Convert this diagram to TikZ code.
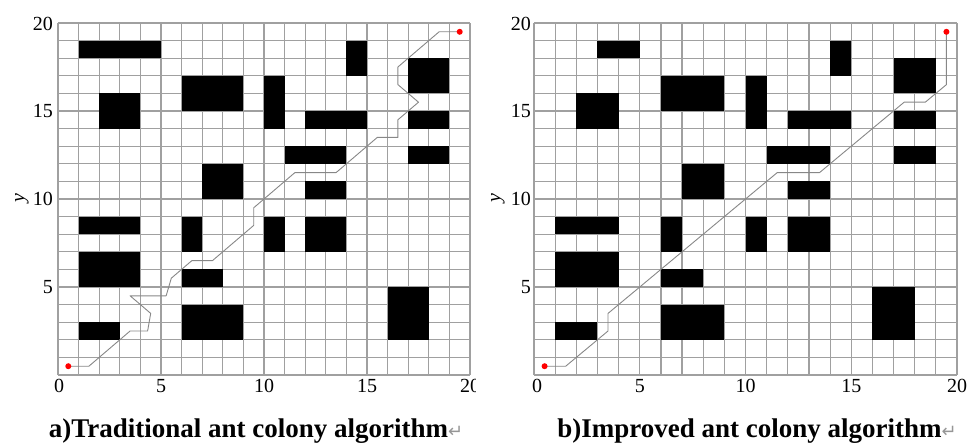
\documentclass[tikz,border=0pt]{standalone}
\usepackage{fontspec}
\setmainfont{Liberation Serif}
\newfontfamily\symfont{DejaVu Sans}
\definecolor{gridgray}{RGB}{160,160,160}
\definecolor{pathgray}{RGB}{135,135,135}
\definecolor{retgray}{RGB}{150,150,150}
\begin{document}
\begin{tikzpicture}[x=1pt,y=-1pt,
  gridline/.style={draw=gridgray,line width=1.2pt},
  obstacle/.style={fill=black},
  route/.style={draw=pathgray,line width=0.9pt,line join=round},
  enddot/.style={circle,fill=red,inner sep=0pt,minimum size=6pt},
  ticklab/.style={font=\fontsize{20}{20}\selectfont,inner sep=0pt},
  axlab/.style={font=\fontsize{20}{20}\selectfont\itshape,inner sep=0pt,rotate=90},
  caption/.style={font=\fontsize{27}{27}\selectfont\bfseries,inner sep=0pt,anchor=base}]
\useasboundingbox (0,0) rectangle (968,446);

% ---------- left grid: traditional ----------
\begin{scope}[shift={(58pt,-375pt)},x=20.6pt,y=17.6pt]
  \foreach \i in {0,...,20} {
    \draw[gridline] (\i,0) -- (\i,20);
    \draw[gridline] (0,\i) -- (20,\i);
  }
  \foreach \a/\b/\c/\d in {1/18/5/19, 2/14/4/16, 6/15/9/17, 7/10/9/12, 14/17/15/19,
      17/16/19/18, 10/14/11/17, 12/14/15/15, 17/14/19/15, 11/12/14/13, 17/12/19/13,
      12/10/14/11, 10/7/11/9, 12/7/14/9, 16/2/18/5, 6/2/9/4, 1/8/4/9, 1/5/4/7,
      1/2/3/3, 6/7/7/9, 6/5/8/6}
    \fill[obstacle] (\a,\b) rectangle (\c,\d);
  \coordinate (sa) at (0.5,0.5);
  \coordinate (ga) at (19.5,19.5);
  \draw[route] (sa) -- (1.5,0.5) -- (3.5,2.5) -- (4.35,2.5) -- (4.5,3.5) -- (3.5,4.5)
    -- (5.25,4.5) -- (5.5,5.5) -- (6.5,6.5) -- (7.5,6.5) -- (9.5,8.5) -- (9.5,9.5)
    -- (11.5,11.5) -- (13.5,11.5) -- (15.5,13.5) -- (16.5,13.5) -- (16.5,14.5)
    -- (17.5,15.5) -- (16.5,16.5) -- (16.5,17.5) -- (18.5,19.5) -- (ga);
  \node[enddot] (sadot) at (sa) {};
  \node[enddot] (gadot) at (ga) {};
\end{scope}

% ---------- right grid: improved ----------
\begin{scope}[shift={(534pt,-375pt)},x=21.15pt,y=17.6pt]
  \foreach \i in {0,...,20} {
    \draw[gridline] (\i,0) -- (\i,20);
    \draw[gridline] (0,\i) -- (20,\i);
  }
  \foreach \a/\b/\c/\d in {3/18/5/19, 2/14/4/16, 6/15/9/17, 7/10/9/12, 14/17/15/19,
      17/16/19/18, 10/14/11/17, 12/14/15/15, 17/14/19/15, 11/12/14/13, 17/12/19/13,
      12/10/14/11, 10/7/11/9, 12/7/14/9, 16/2/18/5, 6/2/9/4, 1/8/4/9, 1/5/4/7,
      1/2/3/3, 6/7/7/9, 6/5/8/6}
    \fill[obstacle] (\a,\b) rectangle (\c,\d);
  \coordinate (sb) at (0.5,0.5);
  \coordinate (gb) at (19.5,19.5);
  \draw[route] (sb) -- (1.5,0.5) -- (3.5,2.5) -- (3.5,3.5) -- (11.5,11.5)
    -- (13.5,11.5) -- (17.5,15.5) -- (18.5,15.5) -- (19.5,16.5) -- (gb);
  \node[enddot] (sbdot) at (sb) {};
  \node[enddot] (gbdot) at (gb) {};
\end{scope}

% ---------- left axis labels ----------
\node[ticklab,anchor=east] (ly20) at (53,24) {20};
\node[ticklab,anchor=east] (ly15) at (53,111) {15};
\node[ticklab,anchor=east] (ly10) at (53,199) {10};
\node[ticklab,anchor=east] (ly5) at (53,287) {5};
\node[axlab] (lyax) at (22,198) {y};
\node[ticklab,anchor=north] (lx0) at (59,379) {0};
\node[ticklab,anchor=north] (lx5) at (161,379) {5};
\node[ticklab,anchor=north] (lx10) at (264,379) {10};
\node[ticklab,anchor=north] (lx15) at (367,379) {15};
\begin{scope}
  \clip (440,376) rectangle (475,405);
  \node[ticklab,anchor=north] (lx20) at (470,379) {20};
\end{scope}

% ---------- right axis labels ----------
\node[ticklab,anchor=east] (ry20) at (531,24) {20};
\node[ticklab,anchor=east] (ry15) at (531,111) {15};
\node[ticklab,anchor=east] (ry10) at (531,199) {10};
\node[ticklab,anchor=east] (ry5) at (531,287) {5};
\node[axlab] (ryax) at (498,198) {y};
\node[ticklab,anchor=north] (rx0) at (537,379) {0};
\node[ticklab,anchor=north] (rx5) at (639.75,379) {5};
\node[ticklab,anchor=north] (rx10) at (745.5,379) {10};
\node[ticklab,anchor=north] (rx15) at (851.25,379) {15};
\node[ticklab,anchor=north] (rx20) at (957,379) {20};

% ---------- captions ----------
\node[caption] (capa) at (256,437) {a)Traditional ant colony algorithm{\mdseries\color{retgray}\symfont\fontsize{18}{18}\selectfont ↵}};
\node[caption] (capb) at (757,437) {b)Improved ant colony algorithm{\mdseries\color{retgray}\symfont\fontsize{18}{18}\selectfont ↵}};
\end{tikzpicture}
\end{document}
